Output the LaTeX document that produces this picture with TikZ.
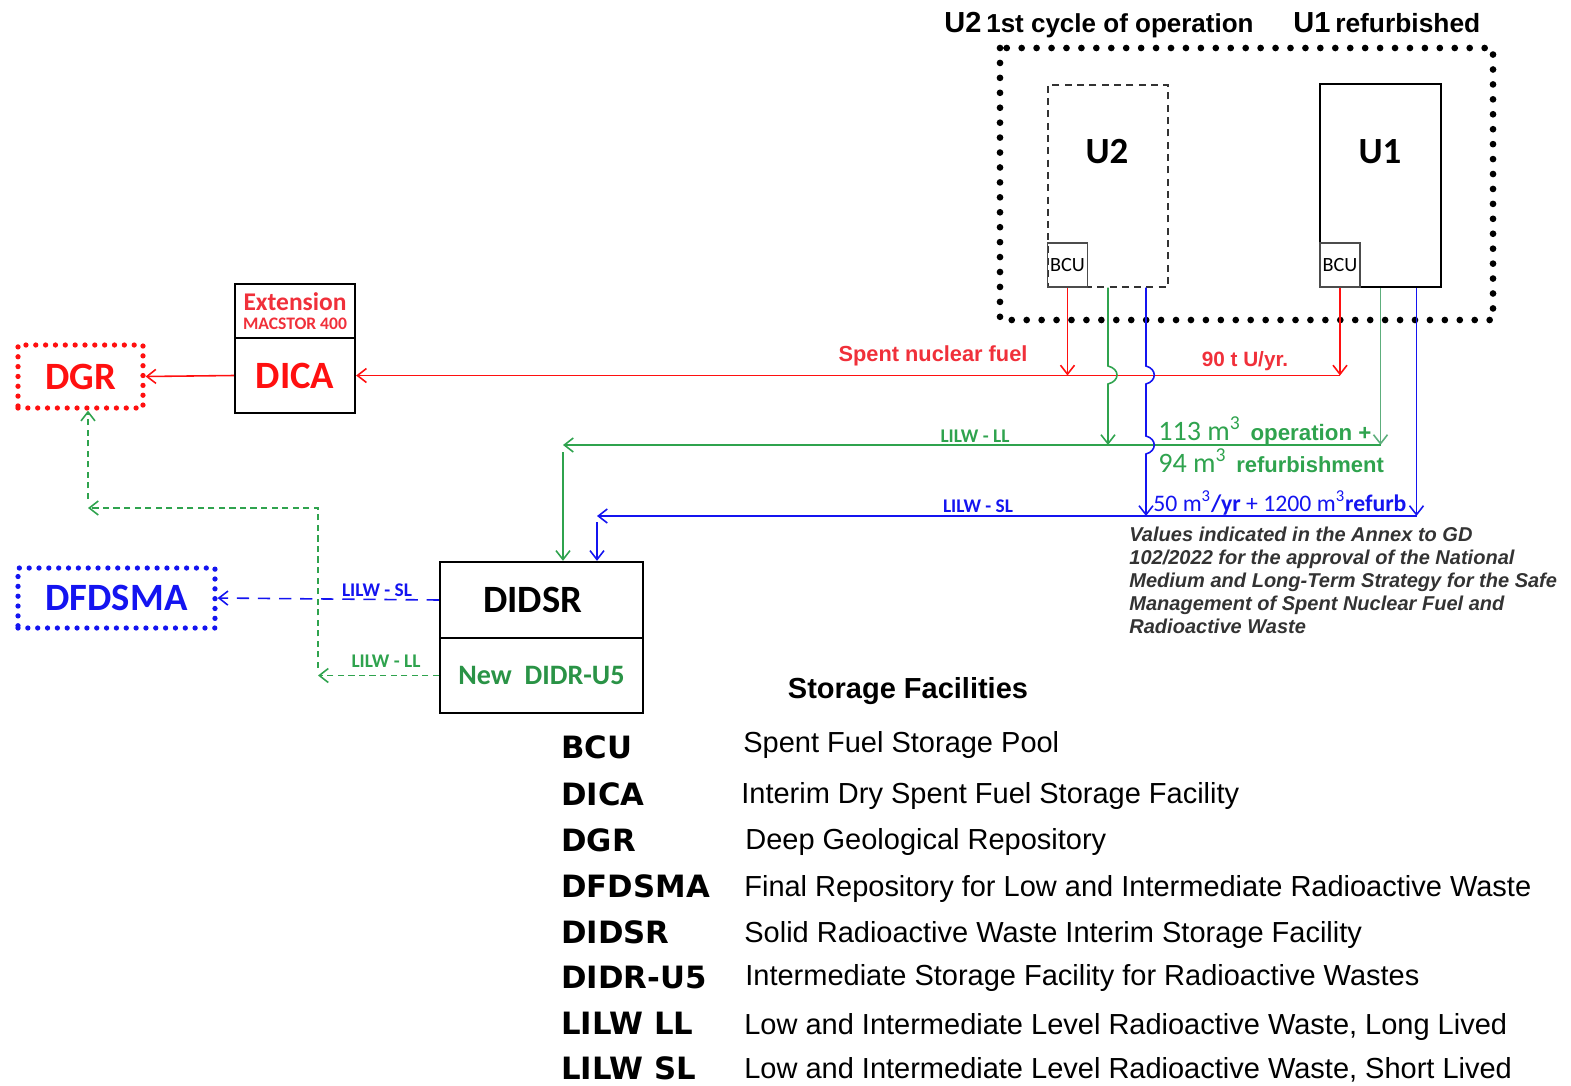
\documentclass[tikz,border=0pt]{standalone}
\usepackage{fontspec}
\setmainfont{Liberation Sans}
\newfontfamily\calibfont{Carlito}
\newfontfamily\keyfont{DejaVu Sans}
\usepackage{tikz}
\usetikzlibrary{arrows.meta,calc,positioning}
\definecolor{fuelred}{HTML}{FF1010}
\definecolor{fueltext}{HTML}{F0303A}
\definecolor{llgreen}{HTML}{2FA34E}
\definecolor{llsoft}{HTML}{5DAE7C}
\definecolor{slblue}{HTML}{1414F0}
\definecolor{notegray}{HTML}{333333}
\newcommand{\fsz}[1]{\fontsize{#1}{#1}\selectfont}

\begin{document}
\begin{tikzpicture}[x=0.02cm,y=-0.02cm,>={Straight Barb[length=1.8mm,width=2.8mm]}]
    \tikzstyle{plainbox}=[draw,line width=1.3pt,inner sep=0pt]
    \tikzstyle{bcubox}=[draw=black!70,line width=0.8pt,inner sep=0pt,minimum width=0.8cm,minimum height=0.88cm,font=\calibfont\fsz{11.5}]
    \tikzstyle{dotbox}=[line width=3pt,dash pattern=on 0pt off 5.6pt,line cap=round,inner sep=0pt]
    \tikzstyle{flow}=[line width=0.9pt]
    \tikzstyle{tag}=[font=\calibfont\bfseries\fsz{11},inner sep=1pt]
    \tikzstyle{keyname}=[anchor=west,font=\keyfont\bfseries\fsz{17.5},inner sep=0pt]
    \tikzstyle{keytext}=[anchor=west,font=\fsz{16.5},inner sep=0pt]

    \useasboundingbox (0,0) rectangle (1571,1085);

    % units on site
    \node[anchor=west,font=\bfseries,inner sep=0pt] (u2title) at (944,25) {{\fsz{16.5}U2} {\fsz{14.8}1st cycle of operation}};
    \node[anchor=west,font=\bfseries,inner sep=0pt] (u1title) at (1293,23) {{\fsz{16.5}U1} {\fsz{15}refurbished}};
    \draw[line width=3.8pt,dash pattern=on 0pt off 8.5pt,line cap=round] (1000,48) rectangle (1493,320);
    \node[draw=black!80,line width=0.8pt,dash pattern=on 4pt off 3pt,inner sep=0pt,minimum width=2.4cm,minimum height=4.04cm] (u2) at (1108,186) {};
    \node[font=\calibfont\bfseries\fsz{21}] (u2name) at (1107,152) {U2};
    \node[bcubox] (bcu2) at (1067.5,265) {BCU};
    \node[plainbox,minimum width=2.42cm,minimum height=4.06cm] (u1) at (1380.5,185.5) {};
    \node[font=\calibfont\bfseries\fsz{21}] (u1name) at (1380,152) {U1};
    \node[bcubox] (bcu1) at (1340,265) {BCU};

    % storage facilities
    \node[plainbox,minimum width=2.4cm,minimum height=1.08cm,align=center,text=fueltext,font=\calibfont\bfseries] (ext) at (295,311) {{\fsz{14.5}Extension}\\[-1pt]{\fsz{10}MACSTOR 400}};
    \node[plainbox,minimum width=2.4cm,minimum height=1.5cm,text=fuelred,font=\calibfont\bfseries\fsz{22}] (dica) at (295,375.5) {DICA};
    \node[dotbox,draw=fuelred,text=fuelred,minimum width=2.5cm,minimum height=1.26cm,font=\calibfont\bfseries\fsz{22}] (dgr) at (80.5,376.5) {DGR};
    \node[dotbox,draw=slblue,text=slblue,minimum width=3.94cm,minimum height=1.2cm,font=\calibfont\bfseries\fsz{22}] (dfdsma) at (116.5,598) {DFDSMA};
    \node[plainbox,minimum width=4.06cm,minimum height=1.52cm,font=\calibfont\bfseries\fsz{22}] (didsr) at (541.5,600) {\hspace*{-0.35cm}DIDSR};
    \node[plainbox,minimum width=4.06cm,minimum height=1.5cm,text=llgreen!90!black,font=\calibfont\bfseries\fsz{16}] (didr) at (541.5,675.5) {New\ \ DIDR-U5};

    % spent nuclear fuel
    \draw[flow,fuelred,->] (bcu2.south) -- (bcu2.south |- dica.east);
    \draw[flow,fuelred,->] (bcu1.south) -- (bcu1.south |- dica.east);
    \draw[flow,fuelred,->] (bcu1.south |- dica.east) -- (dica.east);
    \draw[flow,fuelred,->] (dica.west) -- (dgr.east);
    \node[font=\bfseries\fsz{12.4},text=fueltext] (snf) at (933,356) {Spent nuclear fuel};
    \node[font=\bfseries\fsz{11.8},text=fueltext] (snfrate) at (1245,361) {90 t U/yr.};

    % LILW - LL
    \coordinate (llbus) at (563,445);
    \draw[flow,llgreen,->] (u2.south) -- (1108,366) .. controls (1120,369) and (1120,381) .. (1108,384) -- (u2.south |- llbus);
    \draw[flow,llsoft,->] (u1.south) -- (u1.south |- llbus);
    \draw[flow,llgreen,->] (u1.south |- llbus) -- (llbus);
    \draw[flow,llgreen,->] ([yshift=-0.14cm]llbus) -- (llbus |- didsr.north);
    \node[tag,text=llgreen] (lltag) at (975,436) {LILW - LL};
    \node[anchor=west,inner sep=0pt,text=llgreen] (llrate1) at (1158,431) {{\calibfont\fsz{16}113 m\textsuperscript{3}}\ \ {\bfseries\fsz{12.7}operation +}};
    \node[anchor=west,inner sep=0pt,text=llgreen] (llrate2) at (1158,461) {{\calibfont\fsz{16}94 m\textsuperscript{3}}\ \ {\bfseries\fsz{12.5}refurbishment}};

    % LILW - SL
    \coordinate (u2sl) at ([xshift=0.76cm]u2.south);
    \coordinate (u1sl) at ([xshift=0.72cm]u1.south);
    \coordinate (slbus) at (597,516);
    \draw[flow,slblue,->] (u2sl) -- (1146,366) .. controls (1157,369) and (1157,381) .. (1146,384) -- (1146,436) .. controls (1157,439) and (1157,451) .. (1146,454) -- (u2sl |- slbus);
    \draw[flow,slblue,->] (u1sl) -- (u1sl |- slbus);
    \draw[flow,slblue,->] (u1sl |- slbus) -- (slbus);
    \draw[flow,slblue,->] ([yshift=-0.12cm]slbus) -- (slbus |- didsr.north);
    \node[tag,text=slblue] (sltag) at (978,506) {LILW - SL};
    \node[anchor=west,inner sep=0pt,text=slblue,font=\calibfont\fsz{13.5}] (slrate) at (1153,503) {50 m\textsuperscript{3}\textbf{/yr} + 1200 m\textsuperscript{3}\textbf{refurb}};
    \node[anchor=north west,inner sep=0pt,align=left,text=notegray,font=\bfseries\itshape\fontsize{11.4}{13}\selectfont] (note) at (1129,527) {Values indicated in the Annex to GD\\102/2022 for the approval of the National\\Medium and Long-Term Strategy for the Safe\\Management of Spent Nuclear Fuel and\\Radioactive Waste};

    % disposal
    \coordinate (llturn) at (318,675.5);
    \coordinate (dgrturn) at (88,508);
    \draw[flow,slblue,dash pattern=on 7pt off 5pt,->] (didsr.west) -- (dfdsma.east);
    \draw[flow,llgreen,dash pattern=on 3.5pt off 2.5pt,->] (didr.west) -- (llturn);
    \draw[flow,llgreen,dash pattern=on 3.5pt off 2.5pt,->] ([yshift=0.15cm]llturn) -- (llturn |- dgrturn) -- (dgrturn);
    \draw[flow,llgreen,dash pattern=on 3.5pt off 2.5pt,->] ([yshift=0.18cm]dgrturn) -- (dgrturn |- dgr.south);
    \node[tag,text=slblue] (sltag2) at (377,590) {LILW - SL};
    \node[tag,text=llgreen] (lltag2) at (386,661) {LILW - LL};

    % legend
    \node[font=\bfseries\fsz{16.5}] (legtitle) at (908,691) {Storage Facilities};
    \node[keyname] (k1) at (561,747) {BCU};
    \node[keytext] (d1) at (743,745) {Spent Fuel Storage Pool};
    \node[keyname] (k2) at (561,794) {DICA};
    \node[keytext] (d2) at (741,796) {Interim Dry Spent Fuel Storage Facility};
    \node[keyname] (k3) at (561,840) {DGR};
    \node[keytext] (d3) at (745,842) {Deep Geological Repository};
    \node[keyname] (k4) at (561,886) {DFDSMA};
    \node[keytext] (d4) at (744,889) {Final Repository for Low and Intermediate Radioactive Waste};
    \node[keyname] (k5) at (561,932) {DIDSR};
    \node[keytext] (d5) at (744,935) {Solid Radioactive Waste Interim Storage Facility};
    \node[keyname] (k6) at (561,977) {DIDR-U5};
    \node[keytext] (d6) at (745,978) {Intermediate Storage Facility for Radioactive Wastes};
    \node[keyname] (k7) at (561,1023) {LILW LL};
    \node[keytext] (d7) at (744,1027) {Low and Intermediate Level Radioactive Waste, Long Lived};
    \node[keyname] (k8) at (561,1068) {LILW SL};
    \node[keytext] (d8) at (744,1070) {Low and Intermediate Level Radioactive Waste, Short Lived};
  \end{tikzpicture}
\end{document}
